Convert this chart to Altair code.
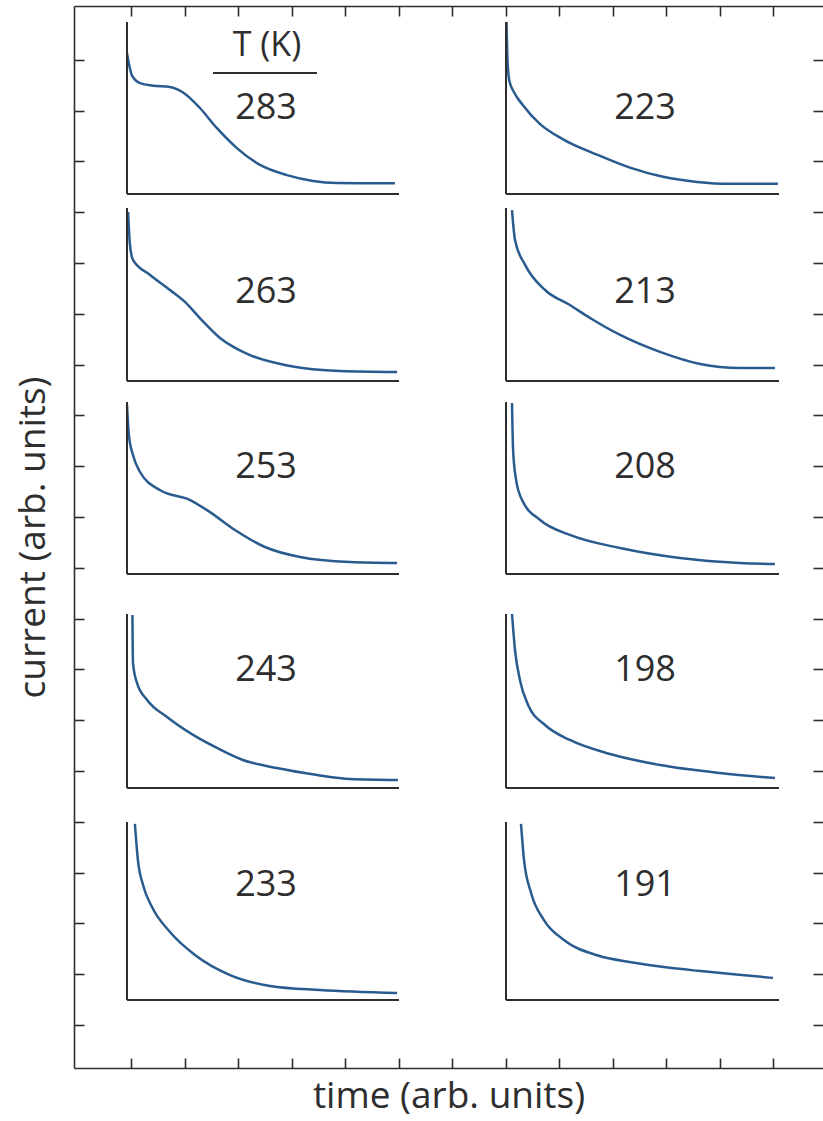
import altair as alt
import pandas as pd

# ---------------- data ----------------
temps = ["283", "263", "253", "243", "233", "223", "213", "208", "198", "191"]

# normalised time (0..1 across each small panel) and current (0..1 of panel height)
t_283 = [0.0, 0.008, 0.018, 0.048, 0.096, 0.158, 0.206, 0.268, 0.33, 0.404, 0.489, 0.588, 0.684, 0.772, 0.85, 0.985]
c_283 = [0.82, 0.75, 0.69, 0.645, 0.63, 0.622, 0.59, 0.5, 0.384, 0.267, 0.169, 0.11, 0.076, 0.064, 0.063, 0.063]

t_263 = [0.004, 0.011, 0.022, 0.085, 0.158, 0.213, 0.268, 0.342, 0.452, 0.599, 0.783, 0.993]
c_263 = [0.977, 0.786, 0.70, 0.613, 0.526, 0.457, 0.364, 0.249, 0.150, 0.087, 0.058, 0.052]

t_253 = [0.0, 0.007, 0.022, 0.048, 0.121, 0.232, 0.305, 0.397, 0.507, 0.636, 0.82, 0.993]
c_253 = [0.983, 0.808, 0.692, 0.593, 0.488, 0.43, 0.36, 0.256, 0.157, 0.099, 0.07, 0.064]

t_243 = [0.020, 0.022, 0.037, 0.074, 0.147, 0.243, 0.331, 0.426, 0.551, 0.699, 0.82, 0.996]
c_243 = [0.994, 0.718, 0.603, 0.506, 0.408, 0.305, 0.23, 0.161, 0.115, 0.075, 0.052, 0.046]

t_233 = [0.029, 0.04, 0.059, 0.092, 0.158, 0.25, 0.379, 0.526, 0.71, 0.993]
c_233 = [0.989, 0.787, 0.646, 0.522, 0.382, 0.253, 0.14, 0.079, 0.056, 0.039]

t_223 = [0.002, 0.005, 0.012, 0.03, 0.06, 0.125, 0.209, 0.333, 0.454, 0.575, 0.7, 0.82, 0.996]
c_223 = [1.0, 0.80, 0.66, 0.59, 0.52, 0.406, 0.318, 0.229, 0.153, 0.1, 0.07, 0.059, 0.059]

t_213 = [0.022, 0.033, 0.07, 0.143, 0.234, 0.308, 0.418, 0.564, 0.711, 0.857, 0.985]
c_213 = [0.988, 0.815, 0.671, 0.526, 0.439, 0.364, 0.266, 0.168, 0.098, 0.075, 0.075]

t_208 = [0.022, 0.026, 0.037, 0.059, 0.125, 0.234, 0.418, 0.637, 0.857, 0.985]
c_208 = [0.994, 0.721, 0.547, 0.43, 0.314, 0.227, 0.151, 0.093, 0.064, 0.058]

t_198 = [0.022, 0.033, 0.051, 0.081, 0.143, 0.234, 0.381, 0.564, 0.784, 0.985]
c_198 = [1.0, 0.793, 0.621, 0.477, 0.362, 0.276, 0.195, 0.132, 0.086, 0.057]

t_191 = [0.055, 0.066, 0.092, 0.139, 0.212, 0.337, 0.458, 0.579, 0.703, 0.824, 0.978]
c_191 = [0.989, 0.787, 0.601, 0.449, 0.337, 0.250, 0.212, 0.185, 0.164, 0.146, 0.124]

curves = {
    "283": (t_283, c_283), "263": (t_263, c_263), "253": (t_253, c_253),
    "243": (t_243, c_243), "233": (t_233, c_233), "223": (t_223, c_223),
    "213": (t_213, c_213), "208": (t_208, c_208), "198": (t_198, c_198),
    "191": (t_191, c_191),
}

# ---------------- layout (frame units = pixels of the outer frame) ----------------
W, H = 749, 1062
x_ticks = [57 + 53.5 * k for k in range(13)]
y_ticks = [43 + 50.8 * k for k in range(20)]
col_x0 = [53, 432]
col_w = [272, 273]
row_y0 = [874, 687, 494, 280, 68]
row_h = [172, 173, 172, 174, 178]
label_y = [960, 776, 601, 398, 183]
label_x = [192, 571]
panel_of = {t: (i // 5, i % 5) for i, t in enumerate(temps)}

BLUE = "#2a5b8e"
INK = "#2e2e2e"
FONT = "Open Sans"

rows = []
for temp in temps:
    col, row = panel_of[temp]
    ts, cs = curves[temp]
    for i, (t, c) in enumerate(zip(ts, cs)):
        rows.append({"temp": temp, "i": i,
                     "x": col_x0[col] + t * col_w[col],
                     "y": row_y0[row] + c * row_h[row]})
curve_df = pd.DataFrame(rows)

seg = []
for temp in temps:
    col, row = panel_of[temp]
    x0, y0 = col_x0[col], row_y0[row]
    seg.append({"x": x0, "x2": x0, "y": y0, "y2": y0 + row_h[row]})
    seg.append({"x": x0, "x2": x0 + col_w[col], "y": y0, "y2": y0})
seg_df = pd.DataFrame(seg)

lab_df = pd.DataFrame([{"temp": t, "x": label_x[panel_of[t][0]], "y": label_y[panel_of[t][1]]}
                       for t in temps])
head_df = pd.DataFrame([{"txt": "T (K)", "x": 193, "y": 1022}])
uline_df = pd.DataFrame([{"x": 139, "x2": 243, "y": 995}])

xs = alt.Scale(domain=[0, W], nice=False, zero=False)
ys = alt.Scale(domain=[0, H], nice=False, zero=False)

common = dict(labels=False, grid=False, domainColor=INK, domainWidth=1.6,
              tickColor=INK, tickWidth=1.6, tickSize=10)

ax_top = alt.Axis(orient="bottom", offset=-H, values=x_ticks, title=None, ticks=True, domain=True, **common)
ax_bottom = alt.Axis(orient="top", offset=-H, values=x_ticks, title=None, ticks=True, domain=True, **common)
ax_xtitle = alt.Axis(orient="bottom", offset=0, title="time (arb. units)", ticks=False, domain=False,
                     labels=False, grid=False, titleFont=FONT, titleFontSize=37,
                     titleFontWeight="normal", titleColor=INK, titlePadding=10)

ax_left = alt.Axis(orient="right", offset=-W, values=y_ticks, title=None, ticks=True, domain=True, **common)
ax_right = alt.Axis(orient="left", offset=-W, values=y_ticks, title=None, ticks=True, domain=False, **common)
ax_ytitle = alt.Axis(orient="left", offset=0, title="current (arb. units)", ticks=False, domain=False,
                     labels=False, grid=False, titleFont=FONT, titleFontSize=37,
                     titleFontWeight="normal", titleColor=INK, titlePadding=22)

lines = alt.Chart(curve_df).mark_line(color=BLUE, strokeWidth=2.5, interpolate="monotone").encode(
    x=alt.X("x:Q", scale=xs, axis=ax_top),
    y=alt.Y("y:Q", scale=ys, axis=ax_left),
    detail="temp:N",
    order=alt.Order("i:Q"),
)

panel_axes = alt.Chart(seg_df).mark_rule(color=INK, strokeWidth=2).encode(
    x=alt.X("x:Q", scale=xs, axis=ax_bottom),
    x2="x2:Q",
    y=alt.Y("y:Q", scale=ys, axis=ax_right),
    y2="y2:Q",
)

labels = alt.Chart(lab_df).mark_text(font=FONT, fontSize=36, color=INK, baseline="middle", align="center").encode(
    x=alt.X("x:Q", scale=xs, axis=ax_xtitle),
    y=alt.Y("y:Q", scale=ys, axis=ax_ytitle),
    text="temp:N",
)

header = alt.Chart(head_df).mark_text(font=FONT, fontSize=34, color=INK, baseline="middle", align="center").encode(
    x=alt.X("x:Q", scale=xs, axis=None),
    y=alt.Y("y:Q", scale=ys, axis=None),
    text="txt:N",
)

uline = alt.Chart(uline_df).mark_rule(color=INK, strokeWidth=2).encode(
    x=alt.X("x:Q", scale=xs, axis=None),
    x2="x2:Q",
    y=alt.Y("y:Q", scale=ys, axis=None),
)

chart = (
    alt.layer(lines, panel_axes, labels, header, uline)
    .resolve_scale(x="independent", y="independent")
    .resolve_axis(x="independent", y="independent")
    .properties(width=W, height=H,
                padding={"left": 74, "top": 6, "right": 0, "bottom": 53},
                autosize=alt.AutoSizeParams(type="none"),
                background="white")
    .configure_view(stroke=None)
)

chart.save("out.html", embed_options={"renderer": "svg", "actions": False})
